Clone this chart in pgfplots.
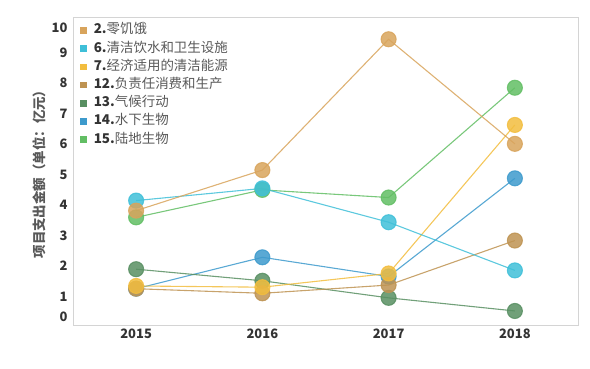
\documentclass[border=0pt]{standalone}
\usepackage{fontspec}
\setmainfont{Noto Sans CJK SC}
\usepackage{pgfplots}
\pgfplotsset{compat=1.18}
\definecolor{cA}{HTML}{D8A45C}
\definecolor{cB}{HTML}{3FBFD8}
\definecolor{cC}{HTML}{F2BD3E}
\definecolor{cD}{HTML}{BE9352}
\definecolor{cE}{HTML}{588F62}
\definecolor{cF}{HTML}{3D9ACC}
\definecolor{cG}{HTML}{62BE64}
\pgfplotsset{
  ser/.style={color=#1, line width=1.1bp, mark=*, mark size=7.5bp,
    mark options={draw=none, fill=#1, fill opacity=0.85}, draw opacity=0.85},
}
\begin{document}
\begin{tikzpicture}
\useasboundingbox (0,0) rectangle (590bp,369bp);
\begin{axis}[
  at={(73bp,44bp)}, anchor=south west,
  scale only axis, width=505bp, height=308bp,
  xmin=2014.5, xmax=2018.5, ymin=0.07, ymax=10.17,
  xtick={2015,2016,2017,2018}, xticklabels={2015,2016,2017,2018},
  ytick={0.34,1,2,3,4,5,6,7,8,9,9.83},
  yticklabels={0,1,2,3,4,5,6,7,8,9,10},
  major tick length=0pt,
  axis line style={draw=black!17},
  tick label style={font=\fontsize{13}{13}\selectfont\bfseries, text=black!80},
  yticklabel style={xshift=-2bp},
  /pgf/number format/assume math mode=true,
  ylabel={项目支出金额（单位：亿元）},
  ylabel style={at={([xshift=-34bp]axis description cs:0,0.5)}, anchor=center,
    font=\fontsize{13.5}{13.5}\selectfont\bfseries, text=black!65},
  reverse legend,
  legend cell align=left,
  legend image code/.code={\fill[#1, draw=none, opacity=1] (0bp,-3.3bp) rectangle (6.6bp,3.3bp);},
  legend style={at={(axis description cs:0,1)}, anchor=north west,
    xshift=7bp, yshift=-7bp, draw=none, fill=none, inner sep=0pt,
    font=\fontsize{13.5}{13.5}\selectfont, text=black!80,
    row sep=5.4bp,
    nodes={inner sep=0pt, text height=9.8bp, text depth=3bp},
    /tikz/every odd column/.append style={column sep=7bp}},
]
\addplot[ser=cG] coordinates {(2015,3.60) (2016,4.50) (2017,4.25) (2018,7.85)};
\addlegendentry{\textbf{15.}\textcolor{black!65}{陆地生物}}
\addplot[ser=cF] coordinates {(2015,1.26) (2016,2.29) (2017,1.66) (2018,4.88)};
\addlegendentry{\textbf{14.}\textcolor{black!65}{水下生物}}
\addplot[ser=cE] coordinates {(2015,1.90) (2016,1.52) (2017,0.96) (2018,0.53)};
\addlegendentry{\textbf{13.}\textcolor{black!65}{气候行动}}
\addplot[ser=cD] coordinates {(2015,1.26) (2016,1.11) (2017,1.38) (2018,2.84)};
\addlegendentry{\textbf{12.}\textcolor{black!65}{负责任消费和生产}}
\addplot[ser=cC] coordinates {(2015,1.35) (2016,1.31) (2017,1.76) (2018,6.63)};
\addlegendentry{\textbf{7.}\textcolor{black!65}{经济适用的清洁能源}}
\addplot[ser=cB] coordinates {(2015,4.15) (2016,4.55) (2017,3.44) (2018,1.86)};
\addlegendentry{\textbf{6.}\textcolor{black!65}{清洁饮水和卫生设施}}
\addplot[ser=cA] coordinates {(2015,3.82) (2016,5.15) (2017,9.44) (2018,6.01)};
\addlegendentry{\textbf{2.}\textcolor{black!65}{零饥饿}}
\end{axis}
\end{tikzpicture}
\end{document}
